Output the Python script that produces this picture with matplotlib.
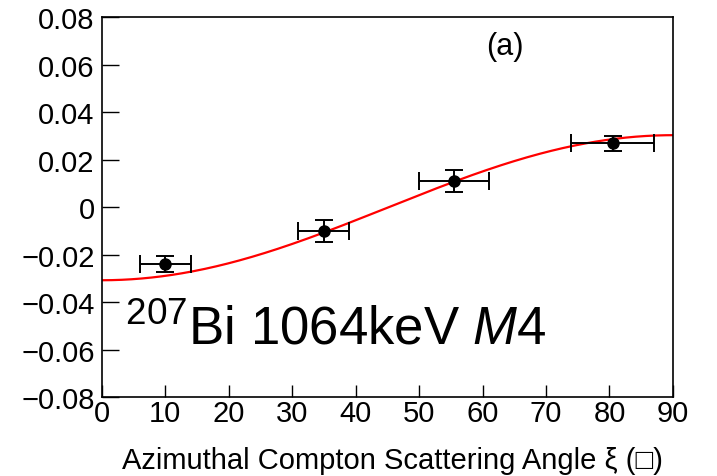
import numpy as np
import matplotlib
matplotlib.use("Agg")
import matplotlib.pyplot as plt

plt.rcParams['font.family'] = ['Liberation Sans', 'DejaVu Sans']
plt.rcParams['axes.unicode_minus'] = True
plt.rcParams['mathtext.fontset'] = 'custom'
plt.rcParams['mathtext.rm'] = 'Liberation Sans'
plt.rcParams['mathtext.it'] = 'Liberation Sans:italic'

# data
xi = [10.0, 35.0, 55.5, 80.5]
xi_err_lo = [4.0, 4.0, 5.5, 6.5]
xi_err_hi = [4.0, 4.0, 5.5, 6.5]
asym = [-0.0240, -0.0100, 0.0109, 0.0269]
asym_err = [0.0033, 0.0048, 0.0047, 0.0032]

fit_offset = -0.0002
fit_amp = -0.0305

xticks = [0, 10, 20, 30, 40, 50, 60, 70, 80, 90]
yticks = [-0.08, -0.06, -0.04, -0.02, 0, 0.02, 0.04, 0.06, 0.08]
ytick_labels = ['\u22120.08', '\u22120.06', '\u22120.04', '\u22120.02', '0',
                '0.02', '0.04', '0.06', '0.08']

fig = plt.figure(figsize=(7.17, 4.77), dpi=100)
ax = fig.add_axes([0.1418, 0.1646, 0.7968, 0.7977])

xs = np.linspace(0, 90, 400)
ax.plot(xs, fit_offset + fit_amp * np.cos(np.radians(2 * xs)), color='red', lw=1.6, zorder=2)

ax.errorbar(xi, asym, xerr=[xi_err_lo, xi_err_hi], yerr=asym_err, fmt='o',
            color='black', ms=8, elinewidth=1.4, capsize=6.5, capthick=1.4, zorder=3)

ax.set_xlim(0, 90)
ax.set_ylim(-0.08, 0.08)
ax.set_xticks(xticks)
ax.set_xticklabels([str(t) for t in xticks])
ax.set_yticks(yticks)
ax.set_yticklabels(ytick_labels)
ax.tick_params(axis='x', direction='in', length=8.5, width=1.0, labelsize=21, pad=1, top=False)
ax.tick_params(axis='y', direction='in', length=12, width=1.0, labelsize=21, pad=5, right=False)
for s in ax.spines.values():
    s.set_linewidth(1.2)

ax.set_xlabel('Azimuthal Compton Scattering Angle \u03be (\u25a1)', fontsize=21, ha='right')
ax.xaxis.set_label_coords(0.983, -0.128)

ax.text(0.673, 0.925, '(a)', transform=ax.transAxes, fontsize=22, ha='left', va='center')
ax.text(0.04, 0.18, r'$^{207}$Bi 1064keV $\mathit{M4}$', transform=ax.transAxes,
        fontsize=38, ha='left', va='center')

fig.savefig('out.png', dpi=100)
